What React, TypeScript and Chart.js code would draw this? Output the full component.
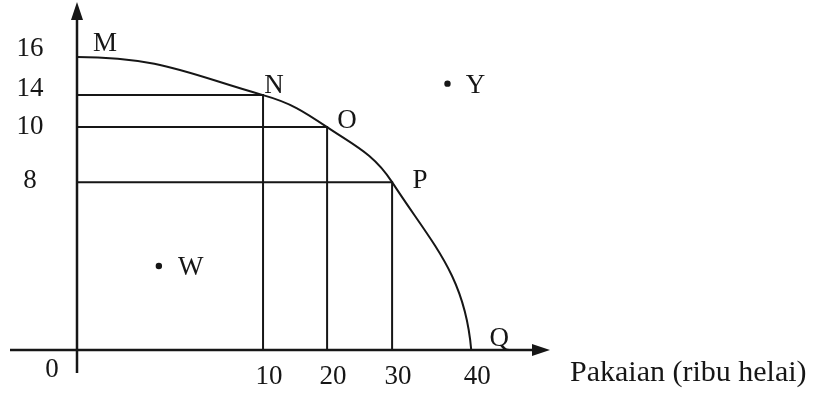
import React, { useEffect, useRef } from 'react';
import { Chart, registerables, LinearScale } from 'chart.js';

// ---- data ----
const pointLabels = ['M', 'N', 'O', 'P', 'Q'];
const clothingValues = [0, 10, 20, 30, 40]; // Pakaian (ribu helai)
const foodValues = [16, 14, 10, 8, 0];
const xTickValues = [10, 20, 30, 40];
const yTickValues = [16, 14, 10, 8];
const extraLabels = ['W', 'Y'];
const extraX = [4.4, 37];
const extraY = [4, 14.6];
const originLabel = '0';
const xAxisTitle = 'Pakaian (ribu helai)';

// ---- layout of the (not-to-scale) textbook axes ----
const KNOTS: Record<string, { values: number[]; fracs: number[] }> = {
  x: { values: [0, 10, 20, 30, 40], fracs: [0, 0.395, 0.531, 0.669, 0.837] },
  y: { values: [0, 8, 10, 14, 16], fracs: [0, 0.488, 0.648, 0.741, 0.852] },
};

function interp(v: number, vals: number[], fracs: number[]) {
  let i = 0;
  while (i < vals.length - 2 && v > vals[i + 1]) i++;
  const t = (v - vals[i]) / (vals[i + 1] - vals[i]);
  return fracs[i] + t * (fracs[i + 1] - fracs[i]);
}

class PiecewiseScale extends LinearScale {
  static id = 'piecewise';
  static defaults = LinearScale.defaults;
  getPixelForValue(value: any) {
    if (value === null || value === undefined || isNaN(value)) return NaN;
    const k = KNOTS[(this as any).axis];
    const f = interp(value, k.values, k.fracs);
    return this.isHorizontal() ? this.left + f * this.width : this.bottom - f * this.height;
  }
  getValueForPixel(pixel: number) {
    const k = KNOTS[(this as any).axis];
    const f = this.isHorizontal() ? (pixel - this.left) / this.width : (this.bottom - pixel) / this.height;
    return interp(f, k.fracs, k.values);
  }
}

Chart.register(...registerables, PiecewiseScale as any);

const INK = '#161616';
const FONT = '"Liberation Serif", "DejaVu Serif", serif';

const labelOffsets: Record<string, [number, number]> = {
  M: [28, -15], N: [11, -11], O: [20, -8], P: [28, -3], Q: [28, -13], W: [32, 0], Y: [28, 0],
};
const yTickOffsets: Record<number, number> = { 16: -10, 14: -8, 10: -2, 8: -3 };

const curvePlugin = {
  id: 'ppfCurve',
  beforeDatasetDraw(chart: any, args: any) {
    if (args.index !== 0) return;
    const meta = args.meta;
    meta.dataset.updateControlPoints(chart.chartArea, 'x');
    const pts = meta.data;
    const n = pts.length - 1;
    // horizontal tangent at M, near-vertical tangent at Q (concave frontier)
    pts[0].cp2x = pts[0].x + 0.45 * (pts[1].x - pts[0].x);
    pts[0].cp2y = pts[0].y;
    pts[n].cp1x = pts[n].x - 0.08 * (pts[n].x - pts[n - 1].x);
    pts[n].cp1y = pts[n].y - 0.45 * (pts[n].y - pts[n - 1].y);
  },
};

const decorPlugin = {
  id: 'decor',
  beforeDatasetsDraw(chart: any) {
    const ctx = chart.ctx as CanvasRenderingContext2D;
    const xs = chart.scales.x, ys = chart.scales.y;
    const x0 = xs.getPixelForValue(0);
    const y0 = ys.getPixelForValue(0);
    ctx.save();
    ctx.strokeStyle = INK;
    ctx.fillStyle = INK;
    ctx.lineWidth = 2.5;
    ctx.beginPath();
    ctx.moveTo(x0, y0 + 23);
    ctx.lineTo(x0, 14);
    ctx.stroke();
    ctx.beginPath();
    ctx.moveTo(x0, 2);
    ctx.lineTo(x0 - 6, 20);
    ctx.lineTo(x0 + 6, 20);
    ctx.closePath();
    ctx.fill();
    ctx.beginPath();
    ctx.moveTo(10, y0);
    ctx.lineTo(538, y0);
    ctx.stroke();
    ctx.beginPath();
    ctx.moveTo(550, y0);
    ctx.lineTo(532, y0 - 6);
    ctx.lineTo(532, y0 + 6);
    ctx.closePath();
    ctx.fill();
    ctx.restore();
  },
  afterDatasetsDraw(chart: any) {
    const ctx = chart.ctx as CanvasRenderingContext2D;
    const xs = chart.scales.x, ys = chart.scales.y;
    const x0 = xs.getPixelForValue(0);
    const y0 = ys.getPixelForValue(0);
    ctx.save();
    ctx.fillStyle = INK;
    ctx.textAlign = 'center';
    ctx.textBaseline = 'alphabetic';
    const fs = 27;
    ctx.font = `${fs}px ${FONT}`;
    const put = (t: string, cx: number, cy: number) => ctx.fillText(t, cx, cy + fs * 0.33);
    yTickValues.forEach((v) => put(String(v), 30, ys.getPixelForValue(v) + (yTickOffsets[v] ?? -5)));
    xTickValues.forEach((v) => put(String(v), xs.getPixelForValue(v) + 6, 375));
    put(originLabel, x0 - 25, y0 + 18);
    pointLabels.forEach((l, i) => {
      const o = labelOffsets[l];
      put(l, xs.getPixelForValue(clothingValues[i]) + o[0], ys.getPixelForValue(foodValues[i]) + o[1]);
    });
    extraLabels.forEach((l, i) => {
      const o = labelOffsets[l];
      put(l, xs.getPixelForValue(extraX[i]) + o[0], ys.getPixelForValue(extraY[i]) + o[1]);
    });
    ctx.textAlign = 'left';
    ctx.font = `30px ${FONT}`;
    ctx.fillText(xAxisTitle, 570, 381);
    ctx.restore();
  },
};

export default function App() {
  const ref = useRef<HTMLCanvasElement | null>(null);
  useEffect(() => {
    if (!ref.current) return;
    const curve = clothingValues.map((x, i) => ({ x, y: foodValues[i] }));
    const guides = [1, 2, 3].map((i) => ({
      data: [
        { x: 0, y: foodValues[i] },
        { x: clothingValues[i], y: foodValues[i] },
        { x: clothingValues[i], y: 0 },
      ],
      borderColor: INK,
      borderWidth: 2,
      pointRadius: 0,
      tension: 0,
      clip: false as any,
    }));
    const chart = new Chart(ref.current, {
      type: 'line',
      data: {
        datasets: [
          {
            data: curve,
            borderColor: INK,
            borderWidth: 2,
            pointRadius: 0,
            tension: 0.4,
            clip: false as any,
          },
          ...guides,
          {
            data: extraX.map((x, i) => ({ x, y: extraY[i] })),
            showLine: false,
            pointRadius: 3.2,
            pointBackgroundColor: INK,
            pointBorderWidth: 0,
            clip: false as any,
          },
        ] as any,
      },
      options: {
        animation: false,
        responsive: false,
        events: [],
        layout: { padding: { left: 77, right: 281, top: 6, bottom: 48 } },
        plugins: { legend: { display: false }, tooltip: { enabled: false } },
        scales: {
          x: { type: 'piecewise' as any, min: 0, max: 50, display: false },
          y: { type: 'piecewise' as any, min: 0, max: 20, display: false },
        },
      },
      plugins: [curvePlugin, decorPlugin],
    });
    return () => chart.destroy();
  }, []);
  return (
    <div style={{ position: 'absolute', left: 0, top: 0, width: 829, height: 398, background: '#fff' }}>
      <canvas ref={ref} width={829} height={398} />
    </div>
  );
}
